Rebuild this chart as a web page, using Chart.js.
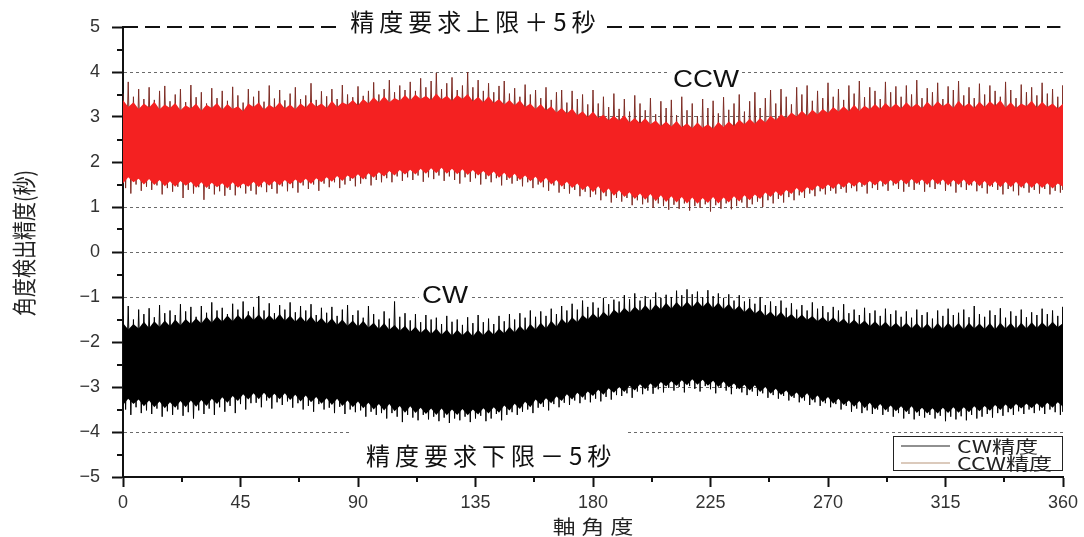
<!DOCTYPE html>
<html lang="ja">
<head>
<meta charset="utf-8">
<title>角度検出精度</title>
<script src="https://cdn.jsdelivr.net/npm/chart.js@4.4.1/dist/chart.umd.min.js"></script>
<style>
  html, body { margin: 0; padding: 0; background: #fff; }
  #wrap { width: 1084px; height: 537px; }
</style>
</head>
<body>
<div id="wrap"><canvas id="chart" width="1084" height="537"></canvas></div>
<script>
// ---- axis ticks ----
const xTickLabels = [0, 45, 90, 135, 180, 225, 270, 315, 360];
const yTickLabels = [-5, -4, -3, -2, -1, 0, 1, 2, 3, 4, 5];

const xAxisTitle = '軸角度';
const yAxisTitle = '角度検出精度(秒)';
const seriesNames = ['CW精度', 'CCW精度'];

// accuracy requirement limits (秒)
const upperLimit = 5;
const lowerLimit = -5;

// spike peaks / dips, sampled every 2 degrees from 0 to 360
const ccwPeak = [
  3.52, 3.78, 3.45, 3.62, 3.40,  3.66, 3.38, 3.58, 3.69, 3.35,
  3.50, 3.62, 3.33, 3.71, 3.44,  3.55, 3.30, 3.64, 3.42, 3.58,
  3.36, 3.67, 3.48, 3.32, 3.62,  3.45, 3.58, 3.34, 3.70, 3.41,
  3.60, 3.37, 3.52, 3.66, 3.40,  3.48, 3.75, 3.38, 3.57, 3.46,
  3.62, 3.40, 3.71, 3.50, 3.44,  3.68, 3.47, 3.58, 3.77, 3.50,
  3.62, 3.82, 3.55, 3.70, 3.60,  3.78, 3.58, 3.86, 3.66, 3.80,
  3.98, 3.62, 3.75, 3.88, 3.60,  3.70, 4.00, 3.66, 3.82, 3.58,
  3.75, 3.55, 3.69, 3.80, 3.52,  3.64, 3.45, 3.72, 3.50, 3.60,
  3.42, 3.66, 3.38, 3.55, 3.60,  3.32, 3.58, 3.40, 3.50, 3.28,
  3.60, 3.30, 3.45, 3.22, 3.52,  3.18, 3.40, 3.12, 3.48, 3.30,
  3.15, 3.42, 3.06, 3.35, 3.20,  3.38, 3.04, 3.45, 3.15, 3.30,
  3.02, 3.40, 3.20, 3.36, 3.08,  3.44, 3.16, 3.30, 3.50, 3.12,
  3.35, 3.55, 3.20, 3.42, 3.60,  3.30, 3.62, 3.45, 3.28, 3.66,
  3.50, 3.70, 3.36, 3.58, 3.42,  3.76, 3.45, 3.62, 3.38, 3.70,
  3.52, 3.80, 3.44, 3.66, 3.58,  3.40, 3.78, 3.55, 3.68, 3.45,
  3.70, 3.50, 3.82, 3.42, 3.64,  3.55, 3.76, 3.40, 3.68, 3.60,
  3.80, 3.48, 3.66, 3.42, 3.74,  3.50, 3.70, 3.58, 3.45, 3.78,
  3.60, 3.42, 3.72, 3.55, 3.66,  3.48, 3.76, 3.52, 3.62, 3.45,
  3.70
];
const ccwDip = [
  1.42, 1.30, 1.50, 1.36, 1.45,  1.38, 1.48, 1.28, 1.42, 1.34,
  1.45, 1.20, 1.38, 1.30, 1.44,  1.16, 1.40, 1.28, 1.35, 1.25,
  1.38, 1.26, 1.42, 1.30, 1.36,  1.28, 1.44, 1.33, 1.40, 1.30,
  1.46, 1.35, 1.42, 1.32, 1.48,  1.40, 1.50, 1.36, 1.52, 1.44,
  1.55, 1.42, 1.50, 1.58, 1.46,  1.52, 1.62, 1.48, 1.60, 1.55,
  1.64, 1.55, 1.68, 1.58, 1.66,  1.60, 1.70, 1.56, 1.66, 1.62,
  1.70, 1.58, 1.68, 1.60, 1.52,  1.66, 1.56, 1.64, 1.50, 1.62,
  1.55, 1.64, 1.48, 1.60, 1.52,  1.58, 1.46, 1.55, 1.42, 1.50,
  1.44, 1.36, 1.48, 1.32, 1.40,  1.30, 1.38, 1.24, 1.34, 1.22,
  1.28, 1.15, 1.24, 1.10, 1.20,  1.12, 1.20, 1.04, 1.15, 1.06,
  1.10, 0.98, 1.08, 1.02, 0.94,  1.05, 0.96, 1.08, 0.92, 1.02,
  0.98, 1.06, 0.90, 1.04, 0.96,  1.08, 0.95, 1.02, 1.10, 0.98,
  1.06, 1.12, 1.00, 1.15, 1.08,  1.18, 1.10, 1.22, 1.15, 1.26,
  1.20, 1.30, 1.24, 1.35, 1.28,  1.36, 1.30, 1.40, 1.32, 1.42,
  1.35, 1.45, 1.30, 1.42, 1.38,  1.46, 1.36, 1.48, 1.40, 1.34,
  1.45, 1.38, 1.50, 1.34, 1.44,  1.40, 1.50, 1.36, 1.46, 1.32,
  1.44, 1.38, 1.48, 1.35, 1.42,  1.30, 1.45, 1.38, 1.28, 1.40,
  1.35, 1.26, 1.42, 1.32, 1.38,  1.30, 1.40, 1.28, 1.36, 1.32,
  1.38
];
const cwPeak = [
  -1.42, -1.20, -1.50, -1.28, -1.38,  -1.25, -1.45, -1.18, -1.36, -1.30,
  -1.40, -1.16, -1.32, -1.22, -1.44,  -1.20, -1.35, -1.12, -1.30, -1.24,
  -1.38, -1.15, -1.28, -1.10, -1.32,  -1.22, -0.98, -1.30, -1.14, -1.36,
  -1.18, -1.28, -1.12, -1.34, -1.20,  -1.30, -1.16, -1.40, -1.24, -1.35,
  -1.22, -1.42, -1.28, -1.18, -1.40,  -1.30, -1.46, -1.20, -1.38, -1.50,
  -1.32, -1.48, -1.10, -1.44, -1.36,  -1.52, -1.38, -1.56, -1.40, -1.50,
  -1.46, -1.60, -1.42, -1.55, -1.50,  -1.62, -1.45, -1.58, -1.40, -1.56,
  -1.48, -1.60, -1.42, -1.54, -1.38,  -1.50, -1.36, -1.46, -1.30, -1.44,
  -1.32, -1.42, -1.26, -1.38, -1.20,  -1.30, -1.15, -1.28, -1.08, -1.22,
  -1.12, -1.24, -1.02, -1.16, -1.06,  -1.10, -0.96, -1.05, -0.92, -1.08,
  -0.98, -1.06, -0.90, -1.02, -0.95,  -1.00, -0.86, -0.96, -0.83, -0.94,
  -0.88, -1.00, -0.85, -0.98, -0.92,  -1.02, -0.94, -1.08, -0.96, -1.10,
  -1.04, -1.15, -1.00, -1.18, -1.10,  -1.20, -1.08, -1.24, -1.14, -1.28,
  -1.18, -1.30, -1.12, -1.26, -1.20,  -1.34, -1.22, -1.30, -1.16, -1.36,
  -1.28, -1.40, -1.24, -1.36, -1.30,  -1.42, -1.26, -1.38, -1.30, -1.44,
  -1.32, -1.46, -1.28, -1.40, -1.34,  -1.48, -1.30, -1.42, -1.26, -1.40,
  -1.35, -1.28, -1.45, -1.20, -1.38,  -1.44, -1.30, -1.40, -1.25, -1.46,
  -1.32, -1.42, -1.28, -1.45, -1.34,  -1.40, -1.26, -1.38, -1.30, -1.42,
  -1.22
];
const cwDip = [
  -3.50, -3.62, -3.45, -3.58, -3.52,  -3.60, -3.48, -3.66, -3.54, -3.62,
  -3.50, -3.64, -3.56, -3.70, -3.52,  -3.60, -3.48, -3.62, -3.45, -3.55,
  -3.42, -3.58, -3.38, -3.50, -3.36,  -3.35, -3.45, -3.30, -3.48, -3.34,
  -3.40, -3.32, -3.46, -3.36, -3.50,  -3.42, -3.55, -3.38, -3.50, -3.46,
  -3.58, -3.44, -3.60, -3.50, -3.56,  -3.52, -3.66, -3.55, -3.62, -3.58,
  -3.70, -3.58, -3.66, -3.78, -3.62,  -3.68, -3.74, -3.62, -3.72, -3.66,
  -3.76, -3.68, -3.80, -3.70, -3.74,  -3.66, -3.78, -3.70, -3.64, -3.76,
  -3.70, -3.60, -3.74, -3.62, -3.56,  -3.62, -3.55, -3.50, -3.58, -3.46,
  -3.44, -3.52, -3.38, -3.45, -3.35,  -3.40, -3.30, -3.36, -3.28, -3.34,
  -3.26, -3.32, -3.22, -3.28, -3.18,  -3.20, -3.14, -3.24, -3.10, -3.16,
  -3.08, -3.15, -3.05, -3.12, -3.02,  -3.08, -3.00, -3.12, -2.98, -3.04,
  -3.10, -2.98, -3.05, -3.14, -3.02,  -3.08, -3.16, -3.04, -3.12, -3.18,
  -3.10, -3.20, -3.14, -3.24, -3.18,  -3.26, -3.20, -3.30, -3.24, -3.34,
  -3.30, -3.40, -3.34, -3.42, -3.36,  -3.45, -3.38, -3.50, -3.42, -3.55,
  -3.48, -3.58, -3.52, -3.60, -3.50,  -3.62, -3.55, -3.66, -3.58, -3.70,
  -3.60, -3.72, -3.64, -3.68, -3.62,  -3.70, -3.64, -3.76, -3.66, -3.72,
  -3.65, -3.74, -3.62, -3.70, -3.66,  -3.60, -3.68, -3.58, -3.64, -3.56,
  -3.62, -3.54, -3.60, -3.50, -3.58,  -3.52, -3.60, -3.50, -3.56, -3.62,
  -3.55
];

// ragged edges of the dense part of each band, every 2 degrees from 0 to 360
const ccwBandTop = [
  3.38, 3.22, 3.33, 3.18, 3.30,  3.21, 3.34, 3.17, 3.28, 3.20,
  3.31, 3.15, 3.26, 3.19, 3.30,  3.14, 3.27, 3.20, 3.31, 3.16,
  3.29, 3.18, 3.24, 3.13, 3.30,  3.22, 3.32, 3.16, 3.27, 3.20,
  3.33, 3.19, 3.28, 3.17, 3.30,  3.21, 3.34, 3.23, 3.30, 3.20,
  3.36, 3.22, 3.33, 3.27, 3.38,  3.26, 3.40, 3.30, 3.44, 3.32,
  3.46, 3.33, 3.42, 3.36, 3.49,  3.37, 3.50, 3.40, 3.47, 3.38,
  3.52, 3.39, 3.47, 3.36, 3.49,  3.40, 3.51, 3.35, 3.45, 3.33,
  3.46, 3.31, 3.40, 3.28, 3.38,  3.26, 3.37, 3.22, 3.30, 3.18,
  3.29, 3.15, 3.24, 3.10, 3.20,  3.08, 3.19, 3.04, 3.13, 3.00,
  3.12, 2.98, 3.05, 2.93, 3.03,  2.92, 3.04, 2.88, 2.98, 2.86,
  2.97, 2.84, 2.92, 2.80, 2.90,  2.79, 2.91, 2.77, 2.86, 2.75,
  2.88, 2.76, 2.84, 2.74, 2.89,  2.78, 2.90, 2.80, 2.94, 2.84,
  2.96, 2.85, 2.98, 2.88, 3.03,  2.93, 3.06, 2.97, 3.10, 3.01,
  3.14, 3.03, 3.16, 3.06, 3.18,  3.09, 3.22, 3.12, 3.24, 3.13,
  3.27, 3.14, 3.25, 3.17, 3.29,  3.18, 3.31, 3.20, 3.30, 3.19,
  3.33, 3.21, 3.30, 3.19, 3.34,  3.22, 3.35, 3.24, 3.32, 3.20,
  3.36, 3.23, 3.31, 3.20, 3.34,  3.22, 3.35, 3.25, 3.37, 3.21,
  3.33, 3.20, 3.30, 3.24, 3.36,  3.21, 3.34, 3.22, 3.30, 3.19,
  3.30
];
const ccwBandBottom = [
  1.52, 1.66, 1.55, 1.63, 1.50,  1.62, 1.49, 1.60, 1.46, 1.57,
  1.45, 1.58, 1.47, 1.56, 1.43,  1.55, 1.42, 1.54, 1.44, 1.53,
  1.41, 1.55, 1.43, 1.52, 1.45,  1.56, 1.44, 1.57, 1.47, 1.58,
  1.48, 1.60, 1.50, 1.61, 1.52,  1.63, 1.51, 1.64, 1.55, 1.66,
  1.56, 1.69, 1.58, 1.70, 1.62,  1.73, 1.61, 1.75, 1.65, 1.77,
  1.68, 1.80, 1.70, 1.82, 1.72,  1.83, 1.72, 1.85, 1.74, 1.86,
  1.75, 1.87, 1.74, 1.85, 1.73,  1.84, 1.71, 1.82, 1.70, 1.80,
  1.68, 1.79, 1.65, 1.76, 1.63,  1.74, 1.60, 1.70, 1.57, 1.67,
  1.53, 1.65, 1.50, 1.60, 1.45,  1.56, 1.42, 1.52, 1.37, 1.47,
  1.33, 1.46, 1.30, 1.41, 1.25,  1.37, 1.22, 1.33, 1.18, 1.30,
  1.16, 1.29, 1.13, 1.26, 1.11,  1.24, 1.10, 1.22, 1.08, 1.21,
  1.07, 1.20, 1.09, 1.22, 1.08,  1.21, 1.10, 1.24, 1.12, 1.26,
  1.15, 1.28, 1.18, 1.32, 1.22,  1.35, 1.24, 1.38, 1.29, 1.42,
  1.31, 1.44, 1.36, 1.48, 1.39,  1.50, 1.40, 1.52, 1.43, 1.55,
  1.45, 1.56, 1.47, 1.58, 1.48,  1.59, 1.49, 1.60, 1.50, 1.61,
  1.50, 1.62, 1.51, 1.61, 1.49,  1.62, 1.50, 1.61, 1.48, 1.60,
  1.49, 1.61, 1.47, 1.59, 1.46,  1.58, 1.45, 1.57, 1.44, 1.56,
  1.44, 1.56, 1.43, 1.55, 1.42,  1.54, 1.42, 1.53, 1.41, 1.52,
  1.45
];
const cwBandTop = [
  -1.58, -1.72, -1.60, -1.70, -1.55,  -1.69, -1.54, -1.66, -1.52, -1.65,
  -1.50, -1.63, -1.49, -1.60, -1.47,  -1.59, -1.44, -1.57, -1.43, -1.55,
  -1.41, -1.54, -1.40, -1.52, -1.38,  -1.51, -1.39, -1.53, -1.40, -1.52,
  -1.38, -1.53, -1.41, -1.55, -1.43,  -1.56, -1.42, -1.58, -1.46, -1.60,
  -1.47, -1.62, -1.50, -1.64, -1.52,  -1.66, -1.53, -1.68, -1.57, -1.71,
  -1.58, -1.73, -1.62, -1.75, -1.64,  -1.78, -1.66, -1.80, -1.69, -1.82,
  -1.70, -1.84, -1.72, -1.86, -1.73,  -1.85, -1.74, -1.87, -1.73, -1.85,
  -1.72, -1.84, -1.70, -1.81, -1.66,  -1.79, -1.64, -1.76, -1.60, -1.72,
  -1.57, -1.70, -1.53, -1.66, -1.48,  -1.60, -1.45, -1.56, -1.40, -1.50,
  -1.36, -1.48, -1.33, -1.44, -1.28,  -1.38, -1.24, -1.35, -1.21, -1.32,
  -1.18, -1.31, -1.16, -1.28, -1.13,  -1.26, -1.11, -1.24, -1.10, -1.23,
  -1.09, -1.22, -1.10, -1.25, -1.12,  -1.27, -1.15, -1.30, -1.19, -1.34,
  -1.22, -1.37, -1.28, -1.42, -1.32,  -1.45, -1.33, -1.47, -1.38, -1.50,
  -1.39, -1.51, -1.42, -1.54, -1.44,  -1.56, -1.45, -1.58, -1.48, -1.61,
  -1.50, -1.62, -1.52, -1.65, -1.54,  -1.66, -1.55, -1.68, -1.57, -1.69,
  -1.57, -1.70, -1.58, -1.71, -1.59,  -1.72, -1.58, -1.71, -1.57, -1.70,
  -1.58, -1.72, -1.57, -1.70, -1.59,  -1.71, -1.58, -1.72, -1.57, -1.70,
  -1.58, -1.71, -1.57, -1.70, -1.56,  -1.69, -1.56, -1.68, -1.55, -1.67,
  -1.58
];
const cwBandBottom = [
  -3.40, -3.26, -3.38, -3.28, -3.43,  -3.30, -3.45, -3.32, -3.47, -3.34,
  -3.46, -3.31, -3.45, -3.30, -3.44,  -3.29, -3.42, -3.26, -3.38, -3.23,
  -3.35, -3.20, -3.31, -3.16, -3.28,  -3.14, -3.27, -3.13, -3.26, -3.15,
  -3.27, -3.14, -3.29, -3.17, -3.32,  -3.19, -3.34, -3.22, -3.37, -3.25,
  -3.40, -3.26, -3.42, -3.30, -3.45,  -3.32, -3.47, -3.35, -3.50, -3.38,
  -3.52, -3.38, -3.54, -3.42, -3.57,  -3.43, -3.58, -3.46, -3.60, -3.48,
  -3.62, -3.48, -3.63, -3.50, -3.62,  -3.49, -3.63, -3.50, -3.61, -3.47,
  -3.59, -3.45, -3.57, -3.41, -3.52,  -3.37, -3.49, -3.33, -3.45, -3.28,
  -3.39, -3.25, -3.36, -3.21, -3.31,  -3.16, -3.28, -3.13, -3.24, -3.10,
  -3.20, -3.06, -3.17, -3.03, -3.13,  -3.00, -3.11, -2.97, -3.08, -2.94,
  -3.05, -2.92, -3.02, -2.89, -2.99,  -2.87, -2.98, -2.85, -2.96, -2.83,
  -2.95, -2.84, -2.97, -2.86, -3.00,  -2.88, -3.01, -2.92, -3.05, -2.95,
  -3.08, -2.96, -3.11, -3.00, -3.15,  -3.04, -3.18, -3.08, -3.22, -3.12,
  -3.26, -3.14, -3.30, -3.19, -3.34,  -3.22, -3.37, -3.26, -3.40, -3.30,
  -3.44, -3.31, -3.47, -3.35, -3.50,  -3.38, -3.52, -3.41, -3.54, -3.43,
  -3.56, -3.43, -3.58, -3.46, -3.59,  -3.47, -3.59, -3.46, -3.58, -3.45,
  -3.57, -3.45, -3.56, -3.43, -3.54,  -3.42, -3.53, -3.40, -3.51, -3.39,
  -3.50, -3.38, -3.48, -3.37, -3.47,  -3.36, -3.47, -3.35, -3.46, -3.34,
  -3.44
];

// ---- styling ----
const RED = '#f42121';
const RED_SPIKE = '#7e2d25';
const INK = '#111';
const TICK_FONT = { family: '"Liberation Sans", Arial, sans-serif', size: 18 };
const JP = '"Noto Sans CJK JP", "Noto Sans", sans-serif';
const LATIN = '"Liberation Sans", Arial, sans-serif';

// peak at each sample, dip half a step later
function zigzag(peaks, dips, step) {
  const pts = [];
  peaks.forEach((p, i) => {
    const x = i * step;
    pts.push({ x: x, y: p });
    pts.push({ x: Math.min(x + step / 2, 360), y: dips[i] });
  });
  return pts;
}
function edge(vals, step) {
  return vals.map((v, i) => ({ x: i * step, y: v }));
}

const hidden = 'rgba(0,0,0,0)';
const lineBase = { pointRadius: 0, pointHoverRadius: 0, tension: 0, borderJoinStyle: 'miter' };

const datasets = [
  Object.assign({ label: 'upper', data: [{ x: 0, y: upperLimit }, { x: 359, y: upperLimit }],
    borderColor: INK, borderWidth: 2, borderDash: [15, 7], fill: false, order: 0, clip: false }, lineBase),
  Object.assign({ label: 'lower', data: [{ x: 0, y: lowerLimit }, { x: 358, y: lowerLimit }],
    borderColor: INK, borderWidth: 2, borderDash: [15, 7], fill: false, order: 0, clip: false }, lineBase),
  Object.assign({ label: 'ccwTop', data: edge(ccwBandTop, 2), borderColor: hidden, borderWidth: 0,
    backgroundColor: RED, fill: '+1', order: 1 }, lineBase),
  Object.assign({ label: 'ccwBottom', data: edge(ccwBandBottom, 2), borderColor: hidden, borderWidth: 0,
    fill: false, order: 1 }, lineBase),
  Object.assign({ label: seriesNames[1], data: zigzag(ccwPeak, ccwDip, 2), borderColor: RED_SPIKE,
    borderWidth: 1, fill: false, order: 2 }, lineBase),
  Object.assign({ label: 'cwTop', data: edge(cwBandTop, 2), borderColor: hidden, borderWidth: 0,
    backgroundColor: '#000', fill: '+1', order: 3 }, lineBase),
  Object.assign({ label: 'cwBottom', data: edge(cwBandBottom, 2), borderColor: hidden, borderWidth: 0,
    fill: false, order: 3 }, lineBase),
  Object.assign({ label: seriesNames[0], data: zigzag(cwPeak, cwDip, 2), borderColor: '#000',
    borderWidth: 1, fill: false, order: 4 }, lineBase)
];

// text placed in data coordinates
const notes = [
  { text: '精度要求上限＋5秒', x: 134, y: 5.13, font: '400 24px ' + JP, spacing: 5, sx: 1, box: [10, 15, 17] },
  { text: '精度要求下限－5秒', x: 140, y: -4.51, font: '400 24px ' + JP, spacing: 5, sx: 1, box: [14, 24, 13] },
  { text: 'CCW', x: 223.3, y: 3.84, font: '400 23px ' + LATIN, spacing: 0, sx: 1.2, box: [3, 11, 11] },
  { text: 'CW', x: 123.3, y: -0.98, font: '400 23px ' + LATIN, spacing: 0, sx: 1.2, box: [3, 11, 11] }
];

function drawText(ctx, t, cx, cy, color) {
  ctx.save();
  ctx.font = t.font;
  ctx.letterSpacing = (t.spacing || 0) + 'px';
  const w = (ctx.measureText(t.text).width - (t.spacing || 0)) * (t.sx || 1);
  if (t.box) {
    ctx.fillStyle = '#fff';
    ctx.fillRect(cx - w / 2 - t.box[0], cy - t.box[1], w + 2 * t.box[0], t.box[1] + t.box[2]);
  }
  ctx.translate(cx - w / 2, cy);
  ctx.scale(t.sx || 1, 1);
  ctx.fillStyle = color || '#111';
  ctx.textAlign = 'left';
  ctx.textBaseline = 'middle';
  ctx.fillText(t.text, 0, 1);
  ctx.restore();
}

const background = {
  id: 'background',
  beforeDraw(chart) {
    const c = chart.ctx;
    c.save();
    c.fillStyle = '#fff';
    c.fillRect(0, 0, chart.width, chart.height);
    c.restore();
  }
};

const minorTicks = {
  id: 'minorTicks',
  afterDraw(chart) {
    const { ctx, scales: { x, y } } = chart;
    ctx.save();
    ctx.strokeStyle = INK;
    ctx.lineWidth = 2;
    ctx.beginPath();
    for (let i = 0; i < xTickLabels.length - 1; i++) {
      const px = Math.round(x.getPixelForValue((xTickLabels[i] + xTickLabels[i + 1]) / 2));
      ctx.moveTo(px, x.top);
      ctx.lineTo(px, x.top + 5);
    }
    for (let i = 0; i < yTickLabels.length - 1; i++) {
      const py = Math.round(y.getPixelForValue((yTickLabels[i] + yTickLabels[i + 1]) / 2));
      ctx.moveTo(y.right - 6, py);
      ctx.lineTo(y.right, py);
    }
    ctx.stroke();
    ctx.restore();
  }
};

const annotations = {
  id: 'annotations',
  afterDraw(chart) {
    const { ctx, scales: { x, y }, chartArea: a } = chart;
    notes.forEach(t => drawText(ctx, t, x.getPixelForValue(t.x), y.getPixelForValue(t.y), '#111'));

    // axis titles
    ctx.save();
    ctx.translate(24, (a.top + a.bottom) / 2 - 9);
    ctx.rotate(-Math.PI / 2);
    ctx.scale(1, 1.25);
    ctx.font = '400 19px ' + JP;
    ctx.fillStyle = '#222';
    ctx.textAlign = 'center';
    ctx.textBaseline = 'middle';
    ctx.fillText(yAxisTitle, 0, 0);
    ctx.restore();
    drawText(ctx, { text: xAxisTitle, font: '400 19px ' + JP, spacing: 5, sx: 1.2 },
      (a.left + a.right) / 2, 526, '#222');

    // legend box
    const bx = a.right - 170, by = a.bottom - 41, bw = 170, bh = 35;
    ctx.save();
    ctx.fillStyle = '#fff';
    ctx.fillRect(bx, by, bw, bh);
    ctx.strokeStyle = '#222';
    ctx.lineWidth = 1;
    ctx.strokeRect(bx + 0.5, by + 0.5, bw - 1, bh - 1);
    const rows = [
      { name: seriesNames[0], color: '#222', yy: by + 10 },
      { name: seriesNames[1], color: '#b8957a', yy: by + 27 }
    ];
    rows.forEach(r => {
      ctx.strokeStyle = r.color;
      ctx.lineWidth = 1.2;
      ctx.beginPath();
      ctx.moveTo(bx + 8, r.yy);
      ctx.lineTo(bx + 57, r.yy);
      ctx.stroke();
    });
    ctx.restore();
    rows.forEach(r => {
      const t = { text: r.name, font: '400 17px ' + JP, spacing: 0, sx: 1.36 };
      ctx.save();
      ctx.font = t.font;
      const w = ctx.measureText(t.text).width * t.sx;
      ctx.restore();
      drawText(ctx, t, bx + 64 + w / 2, r.yy, '#222');
    });
  }
};

new Chart(document.getElementById('chart'), {
  type: 'line',
  data: { datasets: datasets },
  options: {
    responsive: false,
    animation: false,
    devicePixelRatio: 1,
    layout: { padding: { top: 27, right: 21, left: 0, bottom: 0 } },
    plugins: { legend: { display: false }, tooltip: { enabled: false } },
    scales: {
      x: {
        type: 'linear', min: 0, max: 360,
        afterFit(s) { s.height = 60; },
        afterBuildTicks(s) { s.ticks = xTickLabels.map(v => ({ value: v })); },
        ticks: { font: TICK_FONT, color: '#333', padding: 5, maxRotation: 0, autoSkip: false },
        grid: { drawOnChartArea: false, drawTicks: true, tickLength: 10, tickColor: INK, tickWidth: 2 },
        border: { display: true, color: INK, width: 2 }
      },
      y: {
        type: 'linear', min: -5, max: 5,
        afterFit(s) { s.width = 123; },
        afterBuildTicks(s) { s.ticks = yTickLabels.map(v => ({ value: v })); },
        ticks: {
          font: TICK_FONT, color: '#333', padding: 12,
          callback: v => (v < 0 ? '\u2212' + Math.abs(v) : String(v))
        },
        grid: {
          color: c => (c.tick && Math.abs(c.tick.value) < 5 ? '#6a6a6a' : hidden),
          lineWidth: 1, drawTicks: true, tickLength: 11, tickColor: INK, tickWidth: 2
        },
        border: { display: true, color: INK, width: 2, dash: [3, 3] }
      }
    }
  },
  plugins: [background, minorTicks, annotations]
});
</script>
</body>
</html>
